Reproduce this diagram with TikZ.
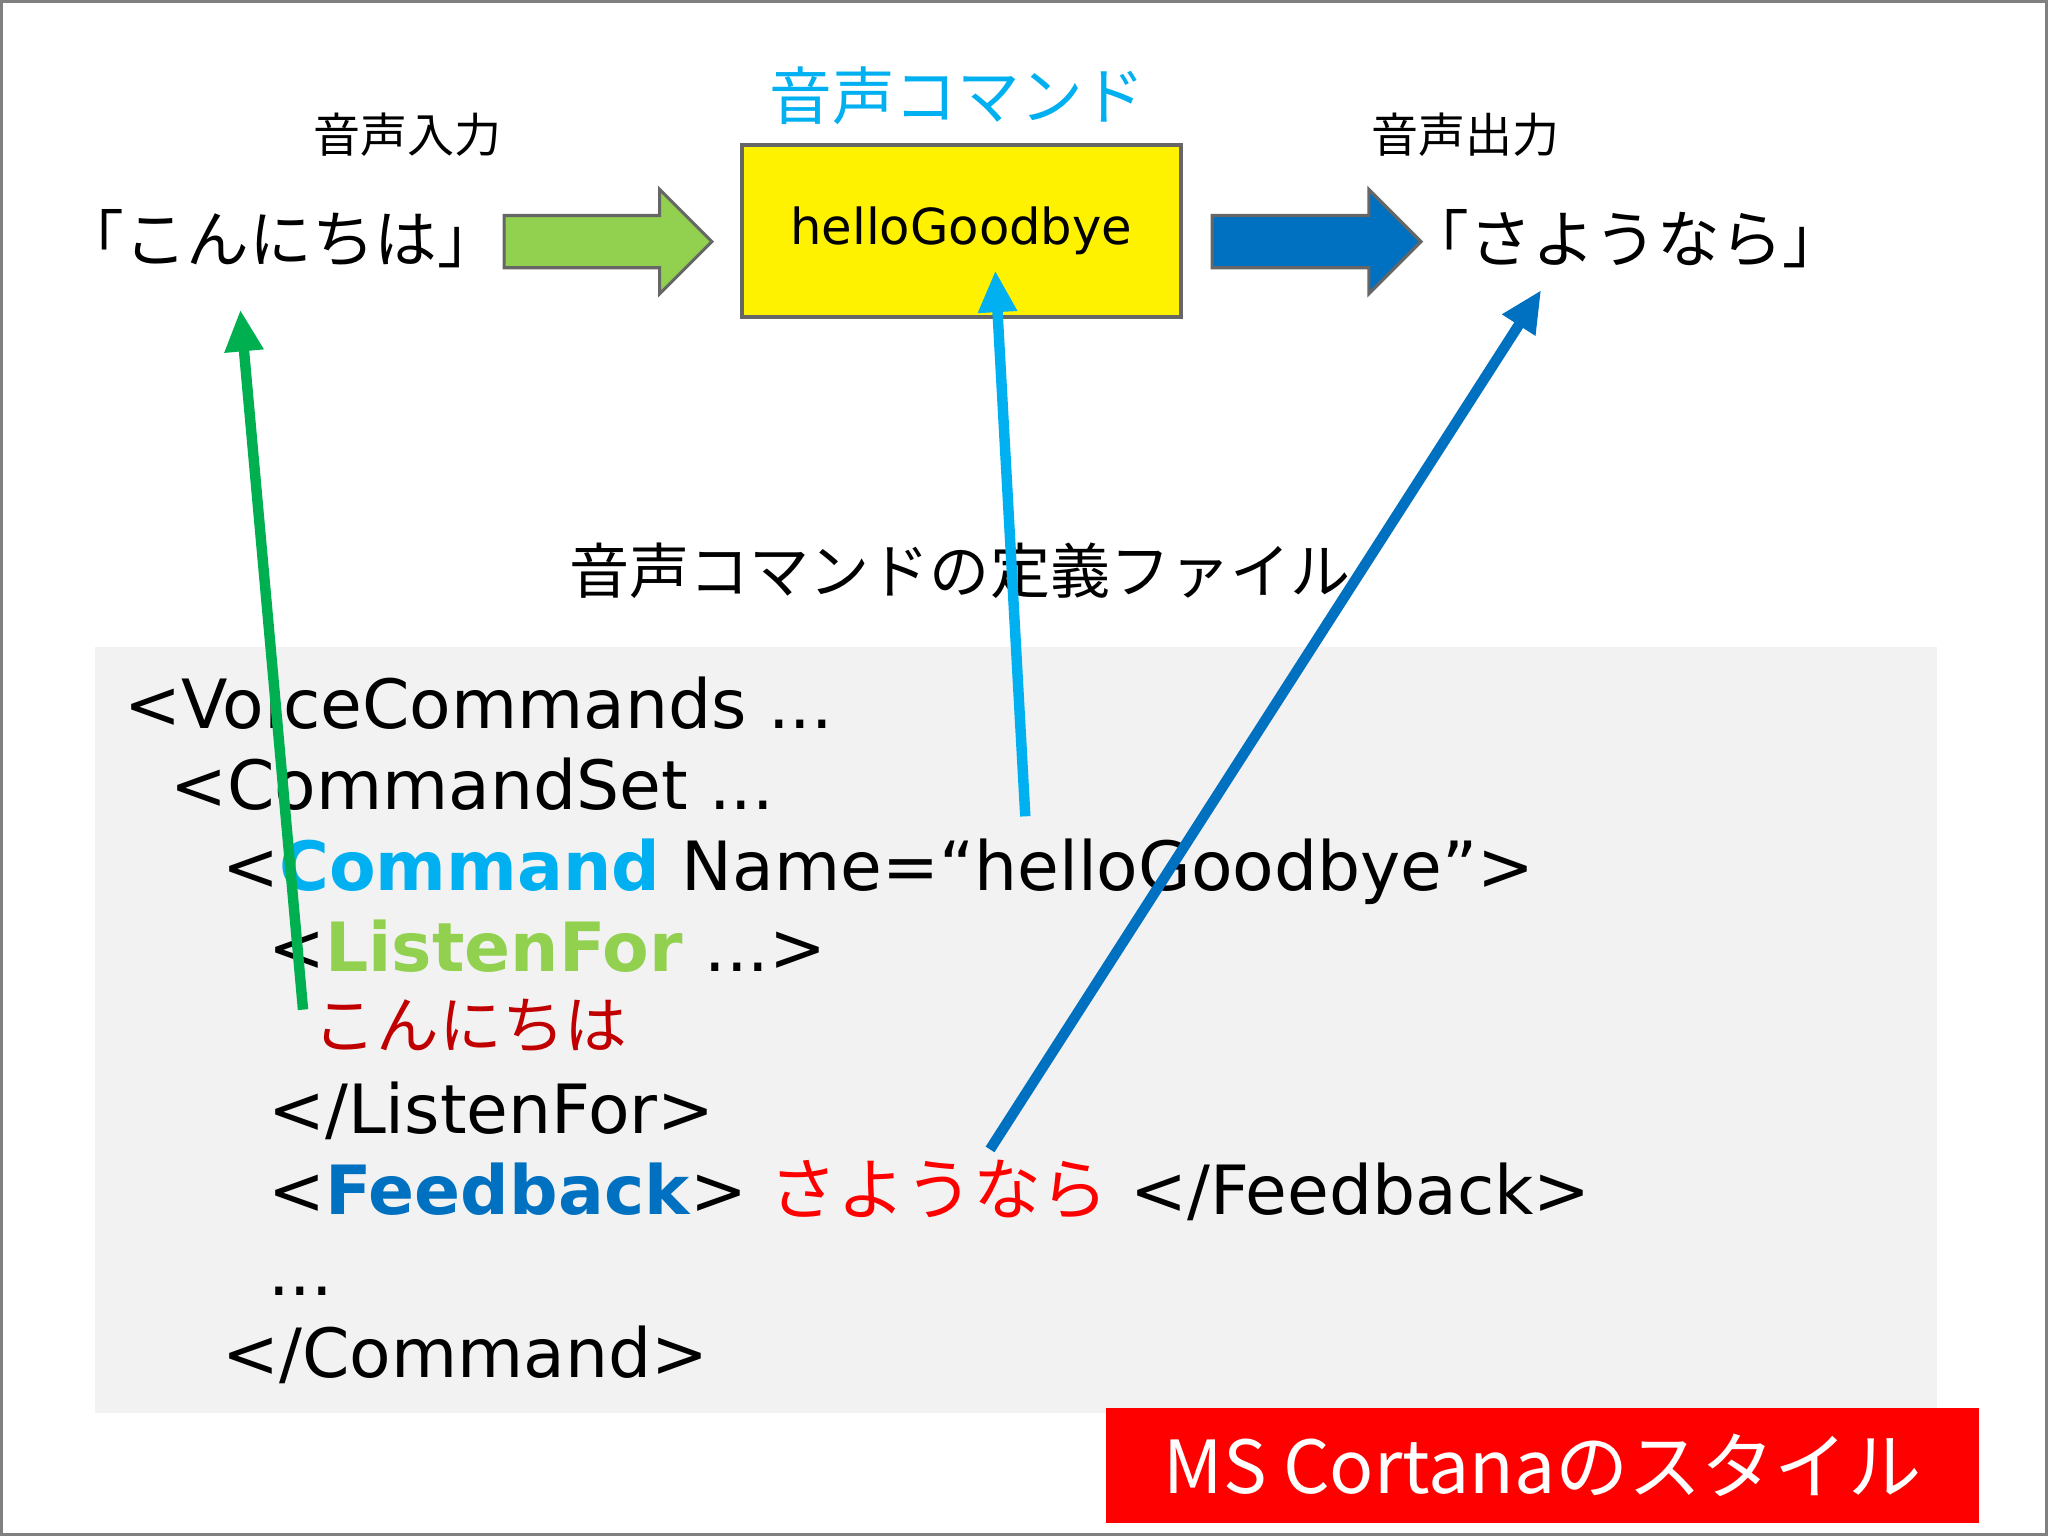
\documentclass[tikz,border=0pt]{standalone}
\usepackage{fontspec}
\setmainfont{DejaVu Sans}
\newfontfamily\jp{Noto Sans CJK JP}
\usetikzlibrary{arrows.meta}
\definecolor{cyanc}{HTML}{00B0F0}
\definecolor{greenc}{HTML}{92D050}
\definecolor{bluec}{HTML}{0070C0}
\definecolor{darkred}{HTML}{C00000}
\definecolor{arrgreen}{HTML}{00B050}
\tikzset{
 code/.style={anchor=base west,inner sep=0,font=\fontsize{26}{30}\selectfont},
 jptitle/.style={font=\jp\fontsize{18}{20}\selectfont},
 ptr/.style={line width=4pt,-{Triangle[length=16pt,width=14pt]}},
 blk/.style={draw=gray!80!black,line width=1.2pt}
}
\begin{document}
\begin{tikzpicture}[x=0.5pt,y=-0.5pt]
\useasboundingbox (0,0) rectangle (1568,1176);
\draw[gray,line width=1.5pt] (1,1) rectangle (1567,1175);
% top row
\node[jptitle] (in) at (312,103) {音声入力};
\node[jptitle] (out) at (1122,103) {音声出力};
\node[font=\jp\fontsize{24}{26}\selectfont] (hello) at (215,183) {「こんにちは」};
\node[font=\jp\fontsize{24}{26}\selectfont] (bye) at (1245,183) {「さようなら」};
\node[font=\jp\fontsize{24}{26}\selectfont,text=cyanc] (vc) at (733,73) {音声コマンド};
\node[draw=gray!80!black,line width=1.5pt,fill=yellow,minimum width=168pt,minimum height=66pt,font=\fontsize{19}{22}\selectfont] (cmd) at (736,177) {helloGoodbye};
\draw[blk,fill=greenc] (386,165) -- (505,165) -- (505,145) -- (545,185) -- (505,225) -- (505,205) -- (386,205) -- cycle;
\draw[blk,fill=bluec] (928,165) -- (1048,165) -- (1048,145) -- (1088,185) -- (1048,225) -- (1048,205) -- (928,205) -- cycle;
\node[font=\jp\fontsize{23}{26}\selectfont] (deffile) at (735,437) {音声コマンドの定義ファイル};
% code box
\fill[gray!10] (73,495) rectangle (1483,1082);
\node[code] (l1) at (95,558) {<VoiceCommands ...};
\node[code] (l2) at (130,620) {<CommandSet ...};
\node[code] (l3) at (170,682) {<\textcolor{cyanc}{\textbf{Command}} Name=“helloGoodbye">};
\node[code] (l4) at (205,744) {<\textcolor{greenc}{\textbf{ListenFor}} ...>};
\node[code,font=\jp\fontsize{24}{28}\selectfont,text=darkred] (l5) at (240,803) {こんにちは};
\node[code] (l6) at (205,868) {</ListenFor>};
\node[code] (l7) at (205,930) {<\textcolor{bluec}{\textbf{Feedback}}> {\jp\textcolor{red}{さようなら}} </Feedback>};
\node[code] (l8) at (205,992) {...};
\node[code] (l9) at (170,1055) {</Command>};
% label
\node[fill=red,text=white,minimum width=334pt,minimum height=44pt,inner sep=0,font=\jp\fontsize{28}{30}\selectfont] (ms) at (1181,1122) {MS Cortanaのスタイル};
% pointers
\coordinate (g0) at (232,773); \coordinate (g1) at (184,237);
\coordinate (c0) at (785,625); \coordinate (c1) at (762,207);
\coordinate (b0) at (758,880); \coordinate (b1) at (1180,222);
\draw[ptr,arrgreen] (g0) -- (g1);
\draw[ptr,cyanc] (c0) -- (c1);
\draw[ptr,bluec] (b0) -- (b1);
\end{tikzpicture}
\end{document}
